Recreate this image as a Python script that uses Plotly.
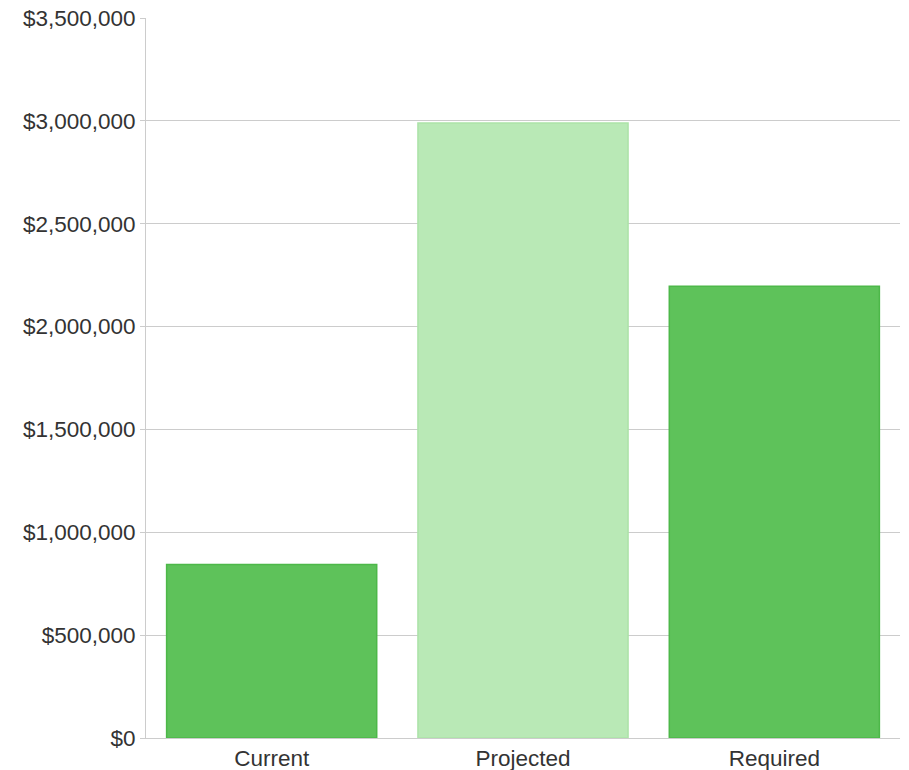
import plotly.graph_objects as go

categories = ["Current", "Projected", "Required"]
values = [843000, 2990000, 2196000]
bar_colors = ["#5ec25a", "#b9e9b6", "#5ec25a"]
line_colors = ["#4db849", "#ace3a8", "#4db849"]
tick_vals = [0, 500000, 1000000, 1500000, 2000000, 2500000, 3000000, 3500000]
tick_text = ["$0", "$500,000", "$1,000,000", "$1,500,000", "$2,000,000",
             "$2,500,000", "$3,000,000", "$3,500,000"]

fig = go.Figure(go.Bar(
    x=categories, y=values,
    marker=dict(color=bar_colors, line=dict(color=line_colors, width=1.5)),
))

fig.update_layout(
    width=909, height=770,
    margin=dict(l=146, r=9, t=18, b=32),
    paper_bgcolor="white", plot_bgcolor="white",
    bargap=0.164,
    showlegend=False,
    font=dict(family="Liberation Sans, Arial, sans-serif", size=22.5, color="#333333"),
)
fig.update_yaxes(
    range=[0, 3500000], tickvals=tick_vals, ticktext=tick_text,
    showgrid=True, gridcolor="#cccccc", gridwidth=1,
    showline=True, linecolor="#cccccc", linewidth=1,
    ticks="outside", ticklen=5, tickcolor="#cccccc",
    zeroline=False, automargin=False,
)
fig.update_xaxes(
    showline=True, linecolor="#cccccc", linewidth=1,
    ticks="", showgrid=False, automargin=False,
)

fig.write_html(
    "out.html",
    config={"displayModeBar": False},
    post_script="document.body.style.margin='0';document.body.style.overflow='hidden';",
)
